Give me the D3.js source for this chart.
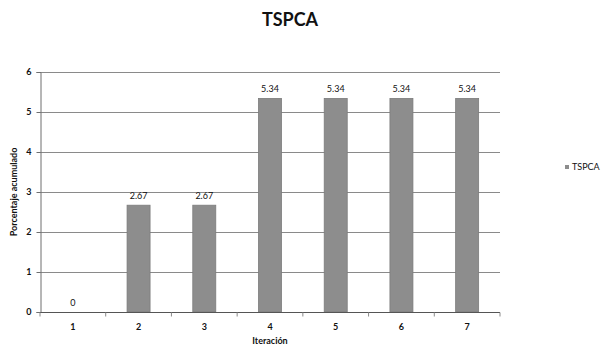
<!DOCTYPE html>
<html>
<head>
<meta charset="utf-8">
<script src="https://cdn.jsdelivr.net/npm/d3@7"></script>
<style>
  html, body { margin: 0; padding: 0; background: #fff; }
  svg { display: block; }
  text { font-family: Lato, "Open Sans", "DejaVu Sans", sans-serif; }
</style>
</head>
<body>
<script>
// Cumulative percentage per iteration for TSPCA
const iterations = ["1", "2", "3", "4", "5", "6", "7"];
const tspcaValues = [0, 2.67, 2.67, 5.34, 5.34, 5.34, 5.34];
const valueLabels = ["0", "2.67", "2.67", "5.34", "5.34", "5.34", "5.34"];
const yTicks = [0, 1, 2, 3, 4, 5, 6];
const seriesName = "TSPCA";

const W = 603, H = 347;
const margin = { left: 40, right: 103, top: 72, bottom: 35 };

const svg = d3.select("body").append("svg")
  .attr("width", W).attr("height", H);

const x = d3.scaleBand()
  .domain(iterations)
  .range([margin.left, W - margin.right])
  .paddingInner(0.65)
  .paddingOuter(0.325);

const xOuter = d3.scaleBand()
  .domain(iterations)
  .range([margin.left, W - margin.right]);

const y = d3.scaleLinear()
  .domain([0, 6])
  .range([H - margin.bottom, margin.top]);

// horizontal gridlines
svg.append("g")
  .selectAll("line")
  .data(yTicks.filter(d => d > 0))
  .join("line")
  .attr("x1", margin.left).attr("x2", W - margin.right)
  .attr("y1", d => Math.round(y(d)) + 0.5).attr("y2", d => Math.round(y(d)) + 0.5)
  .attr("stroke", "#8a8a8a").attr("stroke-width", 1);

// y axis
const yAxis = svg.append("g")
  .attr("transform", `translate(${margin.left + 0.5},0)`)
  .call(d3.axisLeft(y).tickValues(yTicks).tickSize(4).tickPadding(5).tickFormat(d3.format("d")));
yAxis.select(".domain").attr("stroke", "#6f6f6f");
yAxis.selectAll(".tick line").attr("stroke", "#6f6f6f");
yAxis.selectAll("text").attr("font-size", 9).attr("font-weight", "bold").attr("fill", "#111");

// bars
svg.append("g")
  .selectAll("rect")
  .data(tspcaValues)
  .join("rect")
  .attr("x", (d, i) => x(iterations[i]))
  .attr("width", x.bandwidth())
  .attr("y", d => y(d))
  .attr("height", d => y(0) - y(d))
  .attr("fill", "#8d8d8d")
  .attr("stroke", "#7c7c7c")
  .attr("stroke-width", 0.8);

// x axis with ticks on category boundaries
const xAxisG = svg.append("g")
  .attr("transform", `translate(0,${y(0) + 0.5})`);
xAxisG.append("line")
  .attr("x1", margin.left).attr("x2", W - margin.right)
  .attr("stroke", "#555").attr("stroke-width", 1);
const boundaries = iterations.map(d => xOuter(d)).concat([xOuter(iterations[iterations.length - 1]) + xOuter.bandwidth()]);
xAxisG.selectAll("line.tk")
  .data(boundaries)
  .join("line")
  .attr("class", "tk")
  .attr("x1", d => d).attr("x2", d => d)
  .attr("y1", 0).attr("y2", 4)
  .attr("stroke", "#8a8a8a");
xAxisG.selectAll("text")
  .data(iterations)
  .join("text")
  .attr("x", d => xOuter(d) + xOuter.bandwidth() / 2)
  .attr("y", 17)
  .attr("text-anchor", "middle")
  .attr("font-size", 9)
  .attr("font-weight", "bold")
  .attr("fill", "#111")
  .text(d => d);

// value labels
svg.append("g")
  .selectAll("text")
  .data(tspcaValues)
  .join("text")
  .attr("x", (d, i) => x(iterations[i]) + x.bandwidth() / 2)
  .attr("y", d => y(d) - 6)
  .attr("text-anchor", "middle")
  .attr("font-size", 9)
  .attr("fill", "#111")
  .text((d, i) => valueLabels[i]);

// title
svg.append("text")
  .attr("x", 290).attr("y", 26)
  .attr("text-anchor", "middle")
  .attr("font-size", 18)
  .attr("font-weight", "bold")
  .attr("fill", "#111")
  .text("TSPCA");

// axis titles
svg.append("text")
  .attr("x", (margin.left + W - margin.right) / 2)
  .attr("y", 344)
  .attr("text-anchor", "middle")
  .attr("font-size", 9)
  .attr("font-weight", "bold")
  .attr("fill", "#111")
  .text("Iteración");

svg.append("text")
  .attr("transform", `translate(17,${(y(0) + y(6)) / 2}) rotate(-90)`)
  .attr("text-anchor", "middle")
  .attr("font-size", 9)
  .attr("font-weight", "bold")
  .attr("fill", "#111")
  .text("Porcentaje acumulado");

// legend
const lg = svg.append("g").attr("transform", "translate(565,169)");
lg.append("rect").attr("x", 0).attr("y", -4).attr("width", 4).attr("height", 4).attr("fill", "#8d8d8d");
lg.append("text").attr("x", 7).attr("y", 1).attr("font-size", 9).attr("fill", "#111").text(seriesName);
</script>
</body>
</html>
